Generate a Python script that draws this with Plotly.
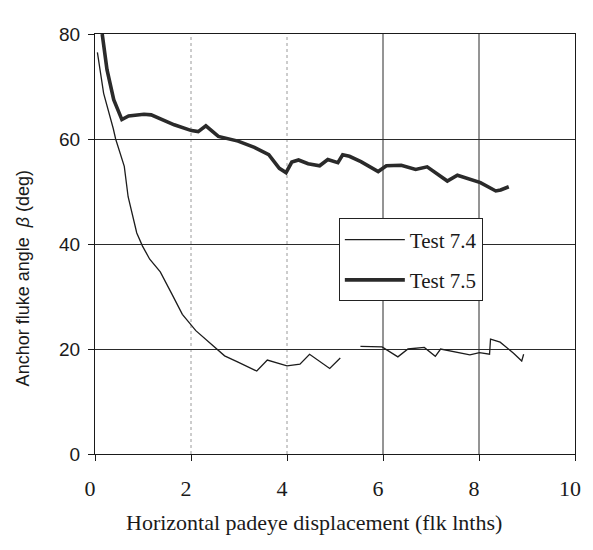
import plotly.graph_objects as go

# ---- data ----
test74_x = [0.05, 0.18, 0.38, 0.43, 0.61, 0.69, 0.87, 0.99, 1.14, 1.36, 1.60, 1.82, 2.10, 2.41,
            2.70, 2.98, 3.37, 3.59, 4.00, 4.27, 4.47, 4.89, 5.11, None,
            5.53, 5.77, 5.98, 6.31, 6.52, 6.86, 7.09, 7.20, 7.54, 7.81, 8.01, 8.22,
            8.24, 8.44, 8.72, 8.89, 8.93]
test74_y = [76.5, 68.7, 62.0, 60.0, 54.8, 49.0, 42.1, 39.6, 37.1, 34.7, 30.5, 26.6, 23.5, 21.1,
            18.7, 17.5, 15.8, 17.9, 16.8, 17.1, 19.0, 16.3, 18.3, None,
            20.5, 20.4, 20.4, 18.5, 20.0, 20.3, 18.6, 20.0, 19.4, 18.9, 19.3, 19.0,
            21.9, 21.3, 19.2, 17.7, 19.0]

test75_x = [0.15, 0.25, 0.39, 0.56, 0.70, 1.02, 1.17, 1.38, 1.65, 2.01, 2.15, 2.31, 2.57,
            2.98, 3.32, 3.62, 3.84, 3.98, 4.10, 4.24, 4.44, 4.68, 4.85, 5.06, 5.16,
            5.30, 5.54, 5.90, 6.07, 6.38, 6.68, 6.92, 7.13, 7.34, 7.55, 7.82, 8.03,
            8.35, 8.45, 8.62]
test75_y = [80.0, 73.2, 67.5, 63.7, 64.4, 64.7, 64.6, 63.7, 62.7, 61.6, 61.4, 62.5, 60.5,
            59.6, 58.4, 57.0, 54.4, 53.6, 55.6, 56.0, 55.3, 54.9, 56.1, 55.5, 57.0,
            56.7, 55.7, 53.8, 54.9, 55.0, 54.2, 54.7, 53.3, 52.0, 53.1, 52.4, 51.7,
            50.1, 50.3, 50.9]

series_names = ["Test 7.4", "Test 7.5"]
x_ticks = [0, 2, 4, 6, 8, 10]
y_ticks = [0, 20, 40, 60, 80]
x_grid_faint = [2, 4]
x_grid_solid = [6, 8]

fig = go.Figure()
fig.add_trace(go.Scatter(x=test74_x, y=test74_y, mode="lines", name=series_names[0],
                         legendgroup="a", connectgaps=False,
                         line=dict(color="#1c1c1c", width=1.3)))
fig.add_trace(go.Scatter(x=test75_x, y=test75_y, mode="lines", name=series_names[1],
                         legendgroup="b",
                         line=dict(color="#2a2a2a", width=3.6)))

for gx in x_grid_faint:
    fig.add_shape(type="line", xref="x", yref="y", x0=gx, x1=gx, y0=0, y1=80,
                  line=dict(color="#9a9a9a", width=1, dash="dot"), layer="below")
for gx in x_grid_solid:
    fig.add_shape(type="line", xref="x", yref="y", x0=gx, x1=gx, y0=0, y1=80,
                  line=dict(color="#2a2a2a", width=1), layer="below")

fig.update_layout(
    width=585, height=542,
    margin=dict(l=87, r=12, t=26, b=96),
    paper_bgcolor="white", plot_bgcolor="white",
    showlegend=True,
    legend=dict(x=0.508, y=0.561, xanchor="left", yanchor="top",
                bgcolor="white", bordercolor="#222", borderwidth=1,
                font=dict(family="Liberation Serif", size=21, color="#1a1a1a"),
                traceorder="grouped", tracegroupgap=10, itemwidth=60),
    xaxis=dict(range=[0, 10], tickvals=x_ticks, showgrid=False, zeroline=False,
               showline=True, linecolor="#1a1a1a", linewidth=1.2, mirror=True,
               ticks="outside", ticklen=6, tickcolor="#1a1a1a",
               ticklabelstandoff=8, ticklabelshift=-5,
               tickfont=dict(family="Liberation Serif", size=22, color="#1a1a1a")),
    yaxis=dict(range=[0, 80], tickvals=y_ticks, showgrid=True, gridcolor="#2a2a2a",
               gridwidth=1, zeroline=False,
               showline=True, linecolor="#1a1a1a", linewidth=1.2, mirror=True,
               ticks="outside", ticklen=6, tickcolor="#1a1a1a",
               ticklabelstandoff=4,
               tickfont=dict(family="Liberation Sans", size=19, color="#1a1a1a")),
    annotations=[
        dict(text="Horizontal padeye displacement (flk lnths)", xref="paper", yref="paper",
             x=0.457, y=-0.164, xanchor="center", yanchor="middle", showarrow=False,
             font=dict(family="Liberation Serif", size=22, color="#1a1a1a")),
        dict(text="Anchor fluke angle  <i>β</i> (deg)", xref="paper", yref="paper",
             x=-0.151, y=0.417, xanchor="center", yanchor="middle", showarrow=False,
             textangle=-90,
             font=dict(family="Liberation Sans", size=18, color="#1a1a1a")),
    ],
)

fig.write_html("out.html")
